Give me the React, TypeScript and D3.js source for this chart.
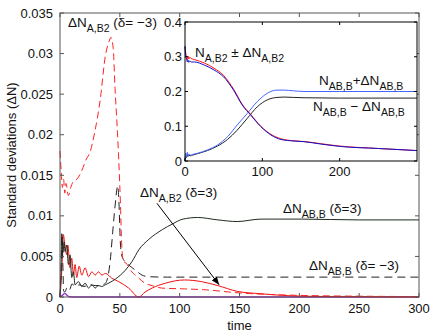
import React from 'react';
import * as d3 from 'd3';

// main plot: standard deviations vs time
const tRedDash = [0, 1, 2, 3, 4, 5, 7, 9, 11, 14, 18, 22, 25, 29, 33.6, 38, 41, 42.6, 44.5, 46, 48, 49.5, 50.5, 51.5, 53, 55, 58, 60, 63, 66, 71, 77, 85, 104, 120, 150, 200, 250, 300];
const vRedDash = [0.018, 0.0155, 0.0135, 0.0145, 0.0128, 0.014, 0.0125, 0.0135, 0.0142, 0.0145, 0.0155, 0.017, 0.0178, 0.0203, 0.0243, 0.0298, 0.0315, 0.032, 0.0306, 0.0257, 0.0203, 0.0155, 0.0115, 0.0067, 0.0044, 0.0042, 0.0036, 0.0031, 0.0027, 0.0023, 0.0017, 0.0014, 0.0011, 0.001, 0.0009, 0.0005, 0.0002, 0.0001, 0.00005];

const tBlackDash = [0, 1, 1.6, 2.4, 3, 4, 6, 8, 10, 13, 16, 20, 25, 30, 35, 38, 40, 42, 44, 46, 48.3, 49.3, 50.4, 51.5, 54, 57, 63, 68.6, 74, 90, 150, 300];
const vBlackDash = [0, 0.004, 0.0077, 0.004, 0.0008, 0.0006, 0.0012, 0.0009, 0.0016, 0.0013, 0.0015, 0.0013, 0.0015, 0.0014, 0.0015, 0.0017, 0.0025, 0.0045, 0.0079, 0.0112, 0.0137, 0.0115, 0.0068, 0.0052, 0.0044, 0.004, 0.0033, 0.0027, 0.0025, 0.00245, 0.00245, 0.00245];

const tRedSolid = [0, 1, 2, 2.8, 4, 5.6, 6.5, 8.4, 9.8, 11.2, 12.6, 14, 16, 18.2, 21, 23.8, 26.6, 29.4, 32.2, 35, 38, 43.4, 49, 57.4, 65.8, 71, 77, 88, 104, 118, 132, 148, 168, 202, 250, 300];
const vRedSolid = [0, 0.002, 0.005, 0.0077, 0.0065, 0.0052, 0.0064, 0.0036, 0.0048, 0.0027, 0.004, 0.0024, 0.0038, 0.0027, 0.0036, 0.0025, 0.0031, 0.0027, 0.0031, 0.0027, 0.0029, 0.0023, 0.0019, 0.0011, 0, 0.0006, 0.0011, 0.0017, 0.0021, 0.0019, 0.0014, 0.0007, 0.0004, 0.0001, 0.00003, 0];

const tBlackSolid = [0, 0.8, 1.5, 2.5, 3.4, 4.2, 5.6, 7, 8.4, 9.8, 11.2, 12.6, 15.4, 18.2, 21, 23.8, 26.6, 29.4, 32, 35, 37.8, 46.2, 54.6, 60.3, 65.8, 74.2, 85.5, 93.9, 102.8, 115, 132, 148, 168, 202, 250, 300];
const vBlackSolid = [0, 0.003, 0.0078, 0.0055, 0.0068, 0.0056, 0.0064, 0.004, 0.0052, 0.0024, 0.0031, 0.0015, 0.0019, 0.0013, 0.0017, 0.0011, 0.0015, 0.0011, 0.0014, 0.0013, 0.0015, 0.0022, 0.0033, 0.0044, 0.0058, 0.0071, 0.0083, 0.009, 0.0096, 0.0098, 0.0095, 0.0093, 0.0096, 0.0096, 0.0095, 0.0095];

const tPurple = [0, 2, 4, 6, 8, 12, 300];
const vPurple = [0, 0.0002, 0.00045, 0.0002, 0.00003, 0, 0];

const mainXTicks = [0, 50, 100, 150, 200, 250, 300];
const mainYTicks = [0, 0.005, 0.01, 0.015, 0.02, 0.025, 0.03, 0.035];

// inset: populations
const tInsetFall = [0, 1, 2, 3, 4, 5, 6, 8, 12, 25, 37.5, 50, 63, 74, 85, 98, 111, 124, 141, 154, 175, 200, 250, 300];
const vFallRed = [0.33, 0.31, 0.3, 0.29, 0.302, 0.294, 0.298, 0.295, 0.292, 0.282, 0.267, 0.246, 0.206, 0.163, 0.134, 0.1, 0.077, 0.064, 0.058, 0.056, 0.05, 0.043, 0.036, 0.03];
const vFallBlue = [0.33, 0.3, 0.295, 0.285, 0.29, 0.284, 0.288, 0.285, 0.285, 0.276, 0.262, 0.242, 0.203, 0.161, 0.132, 0.099, 0.075, 0.062, 0.0575, 0.0556, 0.049, 0.042, 0.036, 0.03];

const tInsetRise = [0, 1, 2, 3, 4, 5, 7, 10, 16, 29, 42, 55, 67.6, 80.6, 93.5, 106.5, 119, 128, 140, 154, 200, 300];
const vRiseBlue = [0, 0.022, 0.012, 0.025, 0.015, 0.02, 0.017, 0.019, 0.022, 0.032, 0.046, 0.07, 0.104, 0.137, 0.171, 0.195, 0.204, 0.204, 0.202, 0.2, 0.2, 0.2];
const vRiseBlack = [0, 0.015, 0.01, 0.018, 0.013, 0.016, 0.015, 0.017, 0.021, 0.03, 0.043, 0.062, 0.089, 0.123, 0.156, 0.176, 0.183, 0.184, 0.183, 0.182, 0.181, 0.181];

const insetXTicks = [0, 100, 200];
const insetYTicks = [0, 0.1, 0.2, 0.3, 0.4];

const W = 436;
const H = 334;
const FONT = '"Liberation Sans", Arial, Helvetica, sans-serif';

const x = d3.scaleLinear().domain([0, 300]).range([60, 419]);
const y = d3.scaleLinear().domain([0, 0.035]).range([297, 13]);
const ix = d3.scaleLinear().domain([0, 300]).range([185, 417]);
const iy = d3.scaleLinear().domain([0, 0.4]).range([161, 22]);

const zip = (ts: number[], vs: number[]) => ts.map((t, i) => [t, vs[i]] as [number, number]);

const mainLine = d3.line<[number, number]>()
  .x(d => x(d[0]))
  .y(d => y(d[1]))
  .curve(d3.curveMonotoneX);

const insetLine = d3.line<[number, number]>()
  .x(d => ix(d[0]))
  .y(d => iy(d[1]))
  .curve(d3.curveMonotoneX);

// text with subscripts: parts are [text, isSub]
const Label = ({ px, py, parts, size = 13.5 }: { px: number; py: number; parts: [string, boolean][]; size?: number }) => (
  <text x={px} y={py} fontSize={size} fontFamily={FONT} fill="#111">
    {parts.map(([s, sub], i) => {
      const prevSub = i > 0 && parts[i - 1][1];
      let dy = 0;
      if (sub && !prevSub) dy = 5;
      if (!sub && prevSub) dy = -5;
      return (
        <tspan key={i} dy={dy} fontSize={sub ? size * 0.78 : size}>{s}</tspan>
      );
    })}
  </text>
);

const fmt = (v: number) => (v === 0 ? '0' : String(+v.toFixed(3)));

export default function App() {
  const tick = 4;
  const [x0, x1] = x.range();
  const [y0, y1] = y.range();
  const [ix0, ix1] = ix.range();
  const [iy0, iy1] = iy.range();

  const arrowFrom: [number, number] = [81, 0.01155];
  const arrowTo: [number, number] = [133, 0.0015];

  return (
    <svg width={W} height={H} style={{ position: 'absolute', left: 0, top: 0, background: '#fff' }}>
      <defs>
        <marker id="arr" viewBox="0 0 10 10" refX="10" refY="5" markerWidth="8" markerHeight="8" orient="auto">
          <path d="M0,1 L10,5 L0,9 Z" fill="#000" />
        </marker>
      </defs>
      <rect width={W} height={H} fill="#fff" />

      {/* main curves */}
      <g fill="none" strokeWidth={1}>
        <path d={mainLine(zip(tPurple, vPurple)) || ''} stroke="#9933cc" strokeWidth={1.3} />
        <path d={mainLine(zip(tRedSolid, vRedSolid)) || ''} stroke="#ee1111" />
        <path d={mainLine(zip(tBlackSolid, vBlackSolid)) || ''} stroke="#1f2a1f" />
        <path d={mainLine(zip(tBlackDash, vBlackDash)) || ''} stroke="#222" strokeDasharray="8,5" />
        <path d={mainLine(zip(tRedDash, vRedDash)) || ''} stroke="#ff2222" strokeDasharray="7,4" />
      </g>

      {/* main frame + ticks */}
      <g stroke="#555" strokeWidth={1} fill="none">
        <rect x={x0} y={y1} width={x1 - x0} height={y0 - y1} />
        {mainXTicks.map(t => (
          <g key={'mx' + t}>
            <line x1={x(t)} x2={x(t)} y1={y0} y2={y0 - tick} />
            <line x1={x(t)} x2={x(t)} y1={y1} y2={y1 + tick} />
          </g>
        ))}
        {mainYTicks.map(v => (
          <g key={'my' + v}>
            <line x1={x0} x2={x0 + tick} y1={y(v)} y2={y(v)} />
            <line x1={x1} x2={x1 - tick} y1={y(v)} y2={y(v)} />
          </g>
        ))}
      </g>
      <g fontFamily={FONT} fontSize={13} fill="#111">
        {mainXTicks.map(t => (
          <text key={'mxl' + t} x={x(t)} y={y0 + 16} textAnchor="middle">{t}</text>
        ))}
        {mainYTicks.map(v => (
          <text key={'myl' + v} x={x0 - 7} y={y(v) + 4.5} textAnchor="end">{fmt(v)}</text>
        ))}
        <text x={(x0 + x1) / 2} y={330} textAnchor="middle">time</text>
        <text transform={`translate(16, ${(y0 + y1) / 2}) rotate(-90)`} textAnchor="middle">Standard deviations (ΔN)</text>
      </g>

      {/* inset */}
      <rect x={ix0} y={iy1} width={ix1 - ix0} height={iy0 - iy1} fill="#fff" />
      <g fill="none" strokeWidth={1}>
        <path d={insetLine(zip(tInsetRise, vRiseBlack)) || ''} stroke="#222" />
        <path d={insetLine(zip(tInsetRise, vRiseBlue)) || ''} stroke="#4466ff" />
        <path d={insetLine(zip(tInsetFall, vFallRed)) || ''} stroke="#ff1111" />
        <path d={insetLine(zip(tInsetFall, vFallBlue)) || ''} stroke="#1111cc" />
      </g>
      <g stroke="#000" strokeWidth={1} fill="none">
        <rect x={ix0} y={iy1} width={ix1 - ix0} height={iy0 - iy1} />
        {insetXTicks.map(t => (
          <g key={'ix' + t}>
            <line x1={ix(t)} x2={ix(t)} y1={iy0} y2={iy0 - 3} />
            <line x1={ix(t)} x2={ix(t)} y1={iy1} y2={iy1 + 3} />
          </g>
        ))}
        {insetYTicks.map(v => (
          <g key={'iy' + v}>
            <line x1={ix0} x2={ix0 + 3} y1={iy(v)} y2={iy(v)} />
            <line x1={ix1} x2={ix1 - 3} y1={iy(v)} y2={iy(v)} />
          </g>
        ))}
      </g>
      <g fontFamily={FONT} fontSize={13} fill="#111">
        {insetXTicks.map(t => (
          <text key={'ixl' + t} x={ix(t)} y={iy0 + 15} textAnchor="middle">{t}</text>
        ))}
        {insetYTicks.map(v => (
          <text key={'iyl' + v} x={ix0 - 3} y={iy(v) + 4.5} textAnchor="end">{fmt(v)}</text>
        ))}
      </g>

      {/* annotations */}
      <Label px={68} py={27} parts={[['ΔN', false], ['A,B2', true], [' (δ= −3)', false]]} />
      <Label px={195} py={57} parts={[['N', false], ['A,B2', true], [' ± ΔN', false], ['A,B2', true]]} />
      <Label px={319} py={85} parts={[['N', false], ['AB,B', true], ['+ΔN', false], ['AB,B', true]]} />
      <Label px={313} py={111} parts={[['N', false], ['AB,B', true], [' − ΔN', false], ['AB,B', true]]} />
      <Label px={140} py={197} parts={[['ΔN', false], ['A,B2', true], [' (δ=3)', false]]} />
      <Label px={283} py={213} parts={[['ΔN', false], ['AB,B', true], [' (δ=3)', false]]} />
      <Label px={309} py={270} parts={[['ΔN', false], ['AB,B', true], [' (δ= −3)', false]]} />

      <line
        x1={x(arrowFrom[0])} y1={y(arrowFrom[1])}
        x2={x(arrowTo[0])} y2={y(arrowTo[1])}
        stroke="#000" strokeWidth={1} markerEnd="url(#arr)"
      />
    </svg>
  );
}
